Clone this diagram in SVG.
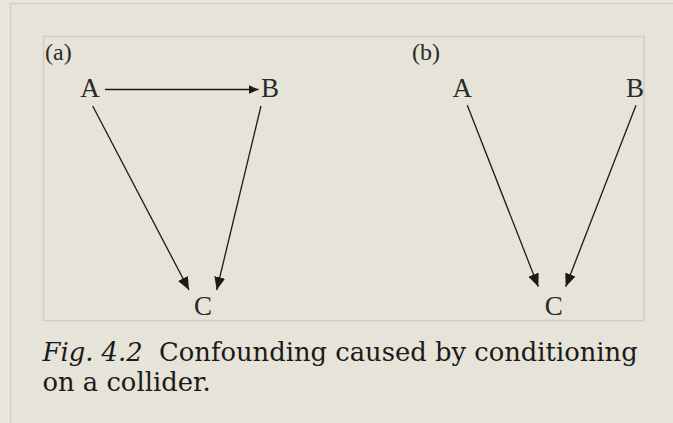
<svg xmlns="http://www.w3.org/2000/svg" width="673" height="423" viewBox="0 0 673 423">
<style>
.lbl{font-family:"Liberation Serif",serif;font-size:27px;fill:#2a2a2a;text-anchor:middle}
.tag{font-family:"Liberation Serif",serif;font-size:24px;fill:#2a2a2a}
.cap{font-family:"DejaVu Serif",serif;font-size:25.8px;fill:#1a1a1a}
.edge{stroke:#1a1a1a;stroke-width:1.3;fill:none}
</style>
<defs>
<marker id="ah" markerUnits="userSpaceOnUse" markerWidth="13" markerHeight="11" refX="13" refY="5.5" orient="auto">
<path d="M0,0 L13,5.5 L0,11 z" fill="#1a1a1a"/>
</marker>
<marker id="ah2" markerUnits="userSpaceOnUse" markerWidth="10" markerHeight="9" refX="10" refY="4.5" orient="auto">
<path d="M0,0 L10,4.5 L0,9 z" fill="#1a1a1a"/>
</marker>
</defs>
<rect x="0" y="0" width="673" height="423" fill="#e8e6de"/>
<rect x="10.5" y="3.5" width="680" height="440" fill="#e6e3d9" stroke="#d2d0c9" stroke-width="1.5"/>
<rect x="43.5" y="36.5" width="600.5" height="284" fill="#e6e3d9" stroke="#cfcdc8" stroke-width="1.5"/>
<g id="connectors">
<line class="edge" x1="105" y1="89.5" x2="258.5" y2="89.5" marker-end="url(#ah2)"/>
<line class="edge" x1="92.7" y1="106" x2="189" y2="290" marker-end="url(#ah)"/>
<line class="edge" x1="261" y1="106" x2="216.7" y2="290" marker-end="url(#ah)"/>
<line class="edge" x1="467.3" y1="105.3" x2="538.3" y2="286.7" marker-end="url(#ah)"/>
<line class="edge" x1="636" y1="105.3" x2="565.7" y2="286.7" marker-end="url(#ah)"/>
</g>
<g id="panel-a"><text class="tag" x="45" y="59.5">(a)</text></g>
<g id="panel-b"><text class="tag" x="412" y="59.5">(b)</text></g>
<g id="a-A"><text class="lbl" x="90" y="96.7">A</text></g>
<g id="a-B"><text class="lbl" x="270" y="96.7">B</text></g>
<g id="a-C"><text class="lbl" x="203" y="315">C</text></g>
<g id="b-A"><text class="lbl" x="462.3" y="96.7">A</text></g>
<g id="b-B"><text class="lbl" x="635" y="96.7">B</text></g>
<g id="b-C"><text class="lbl" x="553.7" y="315">C</text></g>
<g id="caption">
<text class="cap" x="42.5" y="360.7" xml:space="preserve"><tspan font-style="italic">Fig. 4.2</tspan>  Confounding caused by conditioning</text>
<text class="cap" x="42.5" y="391">on a collider.</text>
</g>
</svg>
